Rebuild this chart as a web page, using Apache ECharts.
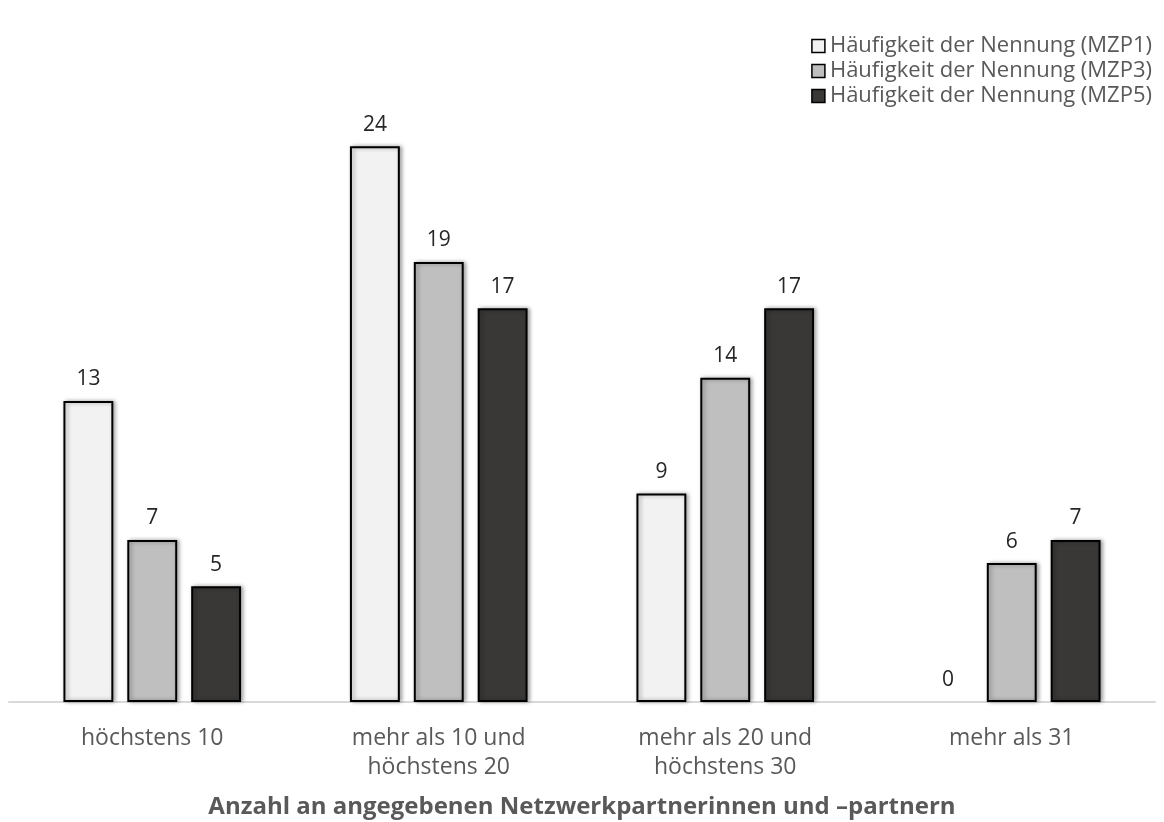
<!DOCTYPE html>
<html>
<head>
<meta charset="utf-8">
<script src="https://cdn.jsdelivr.net/npm/echarts@6/dist/echarts.min.js"></script>
<style>
  html,body{margin:0;padding:0;background:#fff;}
  #chart{width:1164px;height:822px;}
</style>
</head>
<body>
<div id="chart"></div>
<script>
// categories and values
var categories = ['höchstens 10','mehr als 10 und\nhöchstens 20','mehr als 20 und\nhöchstens 30','mehr als 31'];
var seriesNames = ['Häufigkeit der Nennung (MZP1)','Häufigkeit der Nennung (MZP3)','Häufigkeit der Nennung (MZP5)'];
var mzp1 = [13, 24, 9, 0];
var mzp3 = [7, 19, 14, 6];
var mzp5 = [5, 17, 17, 7];
var axisTitle = 'Anzahl an angegebenen Netzwerkpartnerinnen und \u2013partnern';

var barColors = ['#f2f2f2','#bfbfbf','#3a3836'];
var font = 'Open Sans';

function makeSeries(name, values, color){
  var data = [];
  for(var i=0;i<values.length;i++){
    if(values[i] == 0){
      data.push({value: values[i], itemStyle: {borderWidth: 0, shadowBlur: 0}});
    }
    else{
      data.push(values[i]);
    }
  }
  return {
    name: name,
    type: 'bar',
    barGap: '28%',
    barCategoryGap: '38%',
    itemStyle: {
      color: color,
      borderColor: '#000',
      borderWidth: 2,
      shadowColor: 'rgba(0,0,0,0.35)',
      shadowBlur: 4,
      shadowOffsetX: 2,
      shadowOffsetY: 0
    },
    label: {
      show: true,
      position: 'top',
      distance: 11,
      color: '#262626',
      fontFamily: font,
      fontSize: 21
    },
    data: data
  };
}

var myChart = echarts.init(document.getElementById('chart'));
var option = {
  animation: false,
  legend: {
    orient: 'vertical',
    right: 7,
    top: 29,
    itemWidth: 13,
    itemHeight: 13,
    itemGap: 1,
    icon: 'rect',
    itemStyle: {borderColor: '#000', borderWidth: 1.5},
    textStyle: {color: '#595959', fontFamily: font, fontSize: 22, lineHeight: 24},
    data: seriesNames
  },
  grid: {
    left: 9,
    right: 9,
    top: 123,
    bottom: 120,
    containLabel: false,
    outerBoundsMode: 'none'
  },
  xAxis: {
    type: 'category',
    data: categories,
    axisLine: {lineStyle: {color: '#d9d9d9', width: 2}},
    axisTick: {show: false},
    axisLabel: {
      color: '#595959',
      fontFamily: font,
      fontSize: 23,
      margin: 22,
      lineHeight: 29
    },
    name: axisTitle,
    nameLocation: 'middle',
    nameGap: 93,
    nameTextStyle: {
      color: '#595959',
      fontFamily: font,
      fontSize: 24,
      fontWeight: 'bold'
    }
  },
  yAxis: {
    type: 'value',
    min: 0,
    max: 25,
    show: false
  },
  series: [
    makeSeries(seriesNames[0], mzp1, barColors[0]),
    makeSeries(seriesNames[1], mzp3, barColors[1]),
    makeSeries(seriesNames[2], mzp5, barColors[2])
  ]
};
myChart.setOption(option);
</script>
</body>
</html>
